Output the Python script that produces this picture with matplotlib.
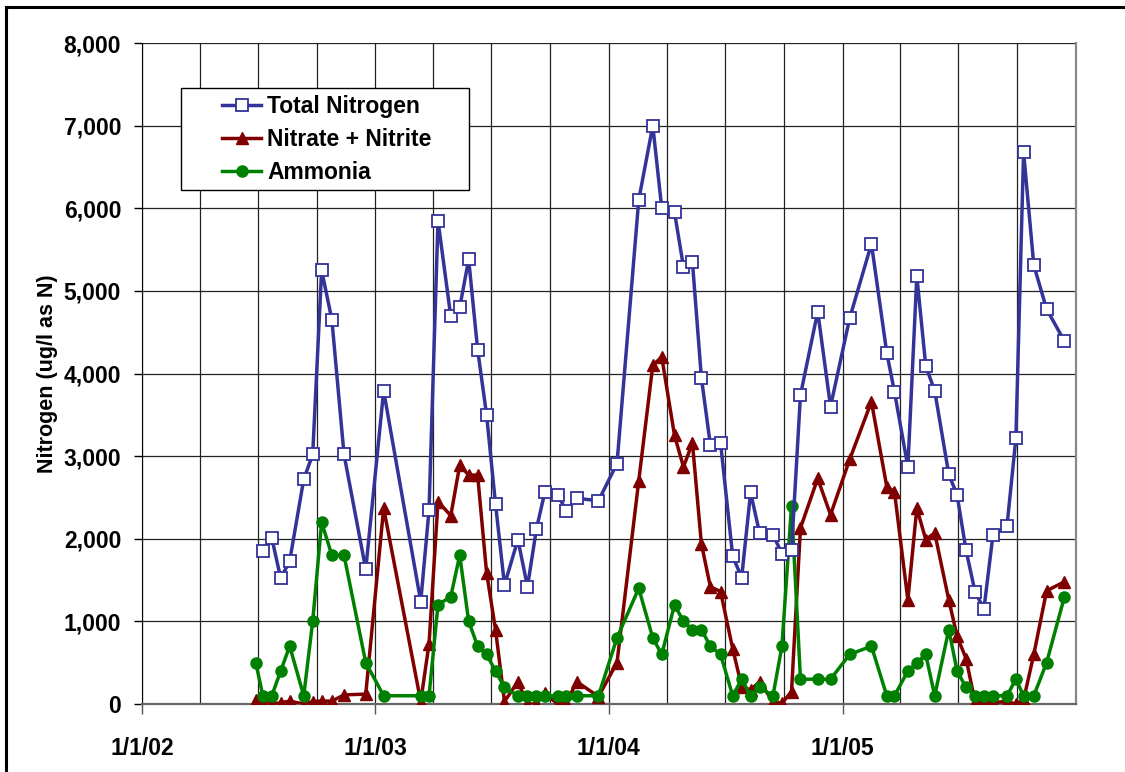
import numpy as np
import pandas as pd
import matplotlib
matplotlib.use("Agg")
import matplotlib.pyplot as plt
import matplotlib.dates as mdates
from matplotlib.ticker import FuncFormatter, MultipleLocator
from matplotlib.patches import Rectangle
from matplotlib.lines import Line2D

plt.rcParams['font.family'] = ['Liberation Sans', 'DejaVu Sans']
plt.rcParams['font.weight'] = 'bold'

# sampling dates
dates = pd.to_datetime([
    "2002-06-28", "2002-07-09", "2002-07-23", "2002-08-06", "2002-08-20", "2002-09-11",
    "2002-09-25", "2002-10-09", "2002-10-25", "2002-11-13", "2002-12-17",
    "2003-01-14", "2003-03-13", "2003-03-26", "2003-04-09", "2003-04-29", "2003-05-13",
    "2003-05-27", "2003-06-10", "2003-06-24", "2003-07-08", "2003-07-22", "2003-08-12",
    "2003-08-27", "2003-09-10", "2003-09-23", "2003-10-13", "2003-10-27", "2003-11-12",
    "2003-12-16",
    "2004-01-14", "2004-02-17", "2004-03-10", "2004-03-24", "2004-04-13", "2004-04-27",
    "2004-05-11", "2004-05-25", "2004-06-08", "2004-06-24", "2004-07-13", "2004-07-27",
    "2004-08-10", "2004-08-24", "2004-09-14", "2004-09-28", "2004-10-13", "2004-10-27",
    "2004-11-23", "2004-12-13",
    "2005-01-12", "2005-02-15", "2005-03-11", "2005-03-23", "2005-04-13", "2005-04-27",
    "2005-05-11", "2005-05-25", "2005-06-16", "2005-06-29", "2005-07-13", "2005-07-27",
    "2005-08-10", "2005-08-24", "2005-09-15", "2005-09-29", "2005-10-11", "2005-10-27",
    "2005-11-16", "2005-12-14",
])

total_nitrogen = [
    np.nan, 1850, 2010, 1520, 1730, 2720, 3020, 5250, 4650, 3020, 1630,
    3790, 1240, 2350, 5850, 4690, 4800, 5380, 4290, 3500, 2420, 1440, 1990, 1420, 2120,
    2560, 2530, 2340, 2490, 2460,
    2910, 6100, 7000, 6000, 5950, 5290, 5350, 3950, 3140, 3160, 1790, 1530, 2560, 2070,
    2050, 1820, 1860, 3740, 4750, 3600,
    4670, 5570, 4250, 3780, 2870, 5180, 4090, 3790, 2780, 2530, 1860, 1360, 1150, 2040,
    2150, 3220, 6680, 5310, 4780, 4390,
]

nitrate_nitrite = [
    50, 30, 0, 15, 35, 0, 30, 35, 35, 110, 120,
    2370, 30, 730, 2450, 2280, 2890, 2770, 2770, 1590, 900, 30, 270, 0, 0,
    130, 0, 15, 270, 90,
    500, 2700, 4100, 4200, 3250, 2870, 3160, 1940, 1420, 1360, 670, 210, 170, 270,
    30, 10, 150, 2130, 2730, 2290,
    2960, 3660, 2630, 2570, 1260, 2370, 1990, 2070, 1260, 820, 550, 30, 30, 20,
    30, 0, 50, 600, 1370, 1480,
]

ammonia = [
    500, 100, 100, 400, 700, 100, 1000, 2200, 1800, 1800, 500,
    100, 100, 100, 1200, 1300, 1800, 1000, 700, 600, 400, 200, 100, 100, 100,
    100, 100, 100, 100, 100,
    800, 1400, 800, 600, 1200, 1000, 900, 900, 700, 600, 100, 300, 100, 200,
    100, 700, 2400, 300, 300, 300,
    600, 700, 100, 100, 400, 500, 600, 100, 900, 400, 200, 100, 100, 100,
    100, 300, 100, 100, 500, 1300,
]

year_ticks = pd.to_datetime(["2002-01-01", "2003-01-01", "2004-01-01", "2005-01-01"])
year_labels = ["1/1/02", "1/1/03", "1/1/04", "1/1/05"]

fig = plt.figure(figsize=(11.25, 7.72), dpi=100)
ax = fig.add_axes([142 / 1125, 68 / 772, 934 / 1125, 661 / 772])

ax.plot(dates, total_nitrogen, color="#333399", lw=2.5, marker="s", ms=8.5,
        mfc="white", mec="#333399", mew=1.3, label="Total Nitrogen", zorder=4)
ax.plot(dates, nitrate_nitrite, color="#800000", lw=2.5, marker="^", ms=8.5,
        mfc="#800000", mec="#800000", label="Nitrate + Nitrite", zorder=3)
ax.plot(dates, ammonia, color="#008000", lw=2.5, marker="o", ms=8,
        mfc="#008000", mec="#008000", label="Ammonia", zorder=3)

ax.set_xlim(pd.Timestamp("2002-01-01"), pd.Timestamp("2006-01-01"))
ax.set_ylim(0, 8000)

ax.set_xticks(year_ticks)
ax.set_xticklabels(year_labels)
ax.xaxis.set_minor_locator(mdates.MonthLocator(bymonth=[1, 4, 7, 10]))
ax.yaxis.set_major_locator(MultipleLocator(1000))
ax.yaxis.set_major_formatter(FuncFormatter(lambda v, p: f"{v:,.0f}"))

ax.grid(True, which="both", axis="x", color="#222222", lw=0.9)
ax.grid(True, which="major", axis="y", color="#222222", lw=0.9)
ax.set_axisbelow(True)

ax.tick_params(axis="x", which="major", direction="out", length=7, width=1,
               color="#555555", pad=17, labelsize=16.5)
ax.tick_params(axis="x", which="minor", length=0)
ax.tick_params(axis="y", direction="out", length=6, width=1, pad=9, labelsize=16.5)

ax.spines["top"].set_visible(False)
ax.spines["left"].set_color("black")
ax.spines["bottom"].set_color("#666666")
ax.spines["bottom"].set_linewidth(1.6)
ax.spines["right"].set_color("#888888")
ax.spines["right"].set_linewidth(1.6)

ax.set_ylabel("Nitrogen (ug/l as N)", fontsize=15.5, fontweight="bold", labelpad=4)

# legend box
ax.add_patch(Rectangle((39 / 934, 514 / 661), 288 / 934, 102 / 661,
                       transform=ax.transAxes, facecolor="white",
                       edgecolor="black", lw=1.0, zorder=6))
leg = ax.legend(loc="upper left", bbox_to_anchor=(69 / 934, 620 / 661),
                frameon=False, borderpad=0, handlelength=1.7, handletextpad=0.25,
                labelspacing=0.42, prop={"size": 16.5, "weight": "bold"})
leg.set_zorder(7)

# figure border (top and left visible)
fig.add_artist(Line2D([6 / 1125, 1], [1 - 7 / 772, 1 - 7 / 772], color="black", lw=2.2))
fig.add_artist(Line2D([6 / 1125, 6 / 1125], [0, 1 - 7 / 772], color="black", lw=2.2))

fig.savefig("out.png", dpi=100)
